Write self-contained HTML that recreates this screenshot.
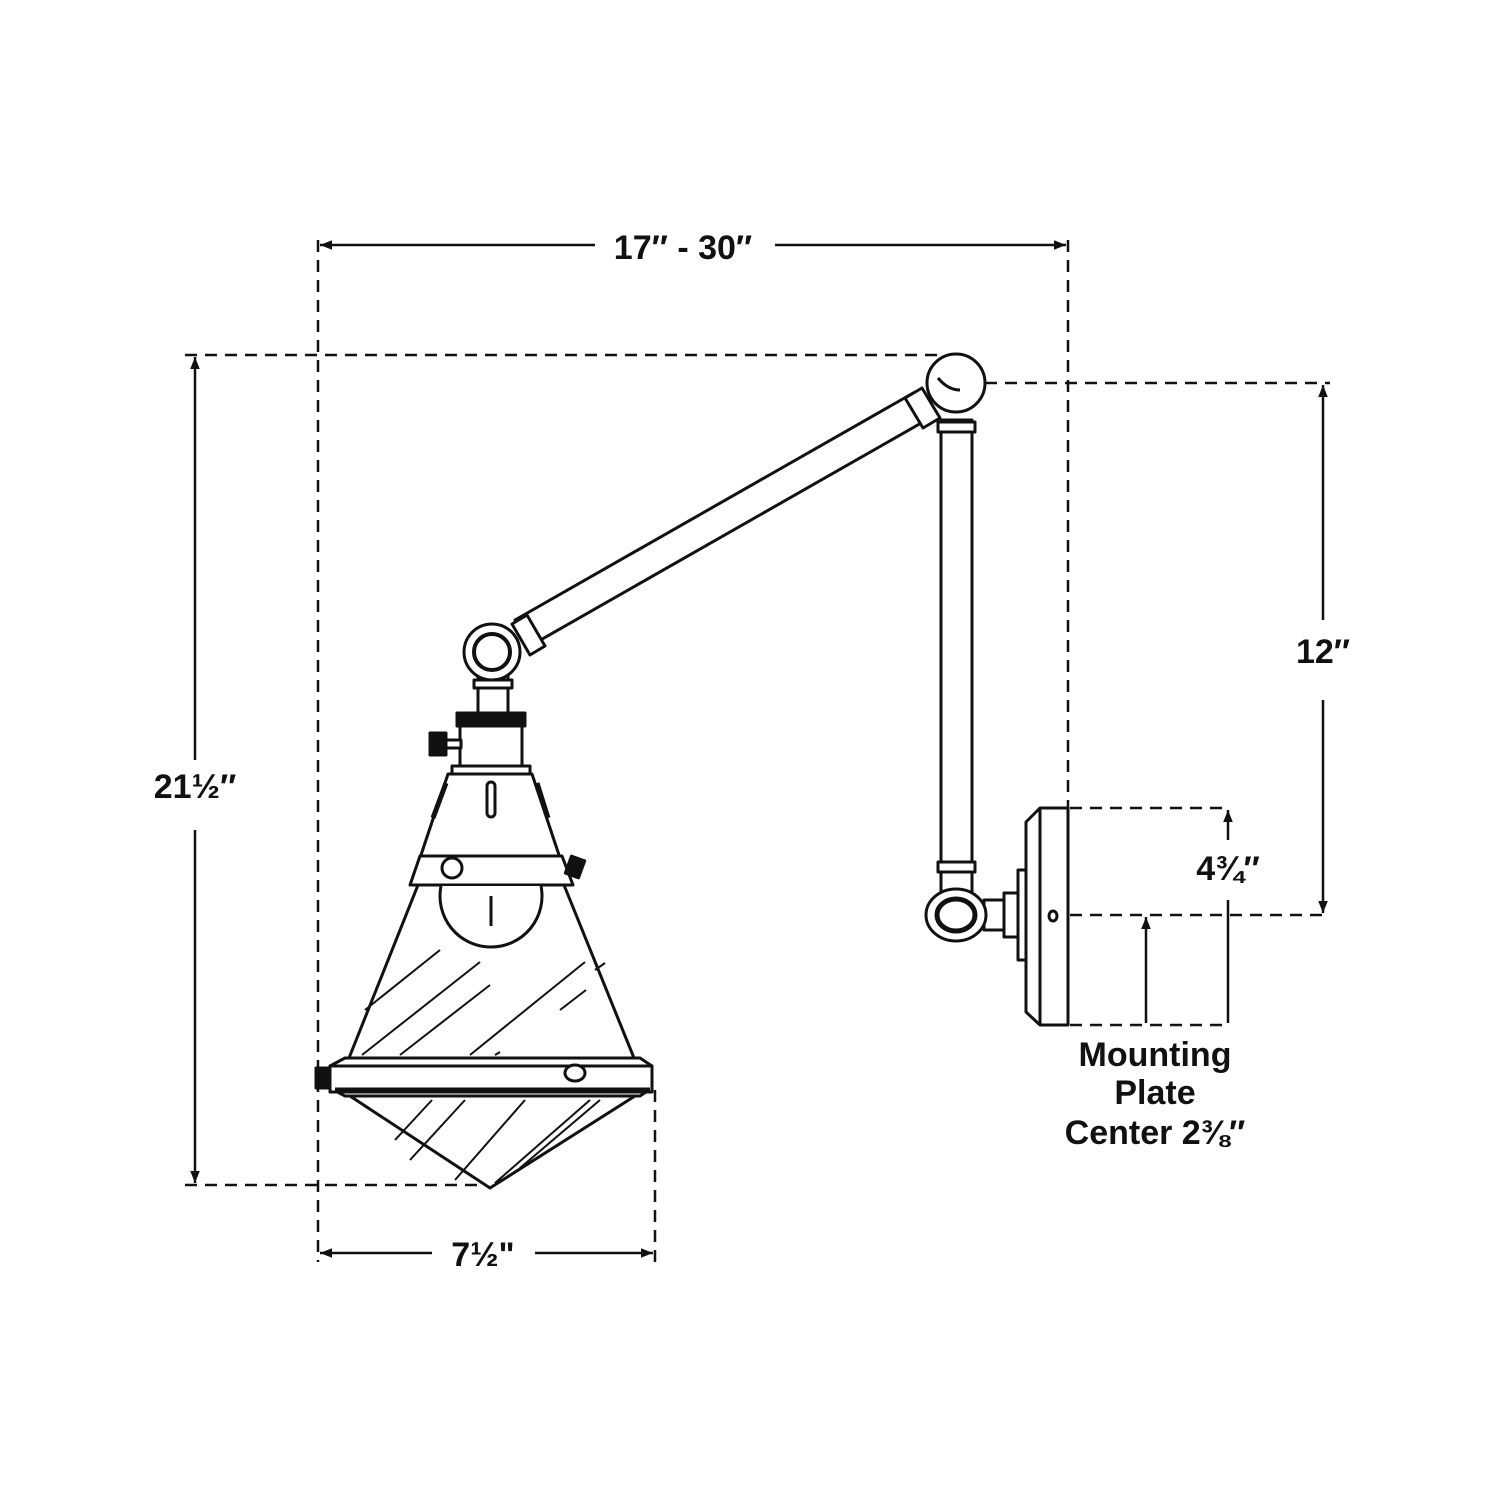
<!DOCTYPE html>
<html><head><style>
html,body{margin:0;padding:0;background:#fff;}
svg{display:block}
text{font-family:"Liberation Sans",sans-serif;font-weight:bold;fill:#111;}
</style></head><body>
<svg width="1500" height="1500" viewBox="0 0 1500 1500" xmlns="http://www.w3.org/2000/svg">
<defs>
<marker id="a" viewBox="0 0 10 10" refX="10" refY="5" markerWidth="12" markerHeight="12" markerUnits="userSpaceOnUse" orient="auto-start-reverse"><path d="M0,1 L10,5 L0,9 Z" fill="#111"/></marker>
</defs>
<g stroke="#111" stroke-width="2.5" stroke-dasharray="12,8" fill="none">
<line x1="318" y1="240" x2="318" y2="1262"/>
<line x1="1068" y1="240" x2="1068" y2="810"/>
<line x1="185" y1="355" x2="940" y2="355"/>
<line x1="185" y1="1185" x2="490" y2="1185"/>
<line x1="655" y1="1090" x2="655" y2="1262"/>
<line x1="985" y1="383" x2="1330" y2="383"/>
<line x1="1070" y1="915" x2="1330" y2="915"/>
<line x1="1070" y1="808" x2="1228" y2="808"/>
<line x1="1070" y1="1025" x2="1228" y2="1025"/>
</g>
<g stroke="#111" stroke-width="2.5" fill="none">
<line x1="320" y1="245" x2="595" y2="245" marker-start="url(#a)"/>
<line x1="775" y1="245" x2="1066" y2="245" marker-end="url(#a)"/>
<line x1="195" y1="357" x2="195" y2="760" marker-start="url(#a)"/>
<line x1="195" y1="830" x2="195" y2="1183" marker-end="url(#a)"/>
<line x1="320" y1="1253" x2="432" y2="1253" marker-start="url(#a)"/>
<line x1="535" y1="1253" x2="653" y2="1253" marker-end="url(#a)"/>
<line x1="1323" y1="385" x2="1323" y2="620" marker-start="url(#a)"/>
<line x1="1323" y1="700" x2="1323" y2="913" marker-end="url(#a)"/>
<line x1="1228" y1="810" x2="1228" y2="840" marker-start="url(#a)"/>
<line x1="1228" y1="900" x2="1228" y2="1023"/>
<line x1="1146" y1="917" x2="1146" y2="1023" marker-start="url(#a)"/>
</g>
<text x="683" y="259" font-size="34" text-anchor="middle">17″ - 30″</text>
<text x="195" y="798" font-size="34" text-anchor="middle">21½″</text>
<text x="483" y="1266" font-size="34" text-anchor="middle">7½"</text>
<text x="1323" y="663" font-size="34" text-anchor="middle">12″</text>
<text x="1228" y="880" font-size="34" text-anchor="middle">4¾″</text>
<text x="1155" y="1066" font-size="34" text-anchor="middle">Mounting</text>
<text x="1155" y="1104" font-size="34" text-anchor="middle">Plate</text>
<text x="1155" y="1144" font-size="34" text-anchor="middle">Center 2⅜″</text>

<g stroke="#111" stroke-width="3" fill="#fff" stroke-linejoin="round">
<!-- upper arm -->
<polygon points="515,620 915,392 930,418 530,646"/>
<polygon points="905,398 922,388 940,418 923,428"/>
<polygon points="512,624 527,615 545,646 530,655"/>
<!-- vertical pipe -->
<rect x="941" y="420" width="31" height="480"/>
<rect x="938" y="422" width="37" height="10"/>
<rect x="938" y="862" width="37" height="10"/>
<circle cx="956" cy="383" r="29"/>
<path d="M938,378 q10,12 22,12" fill="none"/>
<!-- lower joint and plate -->
<rect x="984" y="900" width="20" height="30"/>
<rect x="1004" y="893" width="14" height="44"/>
<rect x="1018" y="870" width="10" height="90"/>
<ellipse cx="956" cy="915" rx="30" ry="26"/>
<ellipse cx="956" cy="915" rx="19" ry="16" stroke-width="5"/>
<path d="M1040,808 L1068,808 L1068,1025 L1040,1025 L1026,1012 L1026,822 Z"/>
<line x1="1040" y1="808" x2="1040" y2="1025"/>
<ellipse cx="1053" cy="916" rx="4" ry="5"/>
<!-- head joint -->
<rect x="478" y="675" width="30" height="40"/>
<rect x="474" y="680" width="38" height="8"/>
<circle cx="492" cy="652" r="28"/>
<circle cx="492" cy="652" r="18" stroke-width="4"/>
<path d="M465,730 q0,-15 28,-15 q28,0 28,15 Z"/>
<rect x="457" y="713" width="68" height="13" fill="#111"/>
<rect x="460" y="726" width="62" height="40"/>
<rect x="445" y="740" width="16" height="8"/>
<rect x="430" y="733" width="16" height="22" fill="#111"/>
<rect x="452" y="766" width="78" height="8"/>
<!-- upper cone -->
<polygon points="448,774 532,774 560,858 420,858"/>
<line x1="446" y1="783" x2="433" y2="818" stroke-width="5"/>
<line x1="537" y1="783" x2="548" y2="818" stroke-width="5"/>
<rect x="487" y="782" width="8" height="35" rx="4"/>
<polygon points="410,885 420,856 562,856 573,885" />
<circle cx="452" cy="868" r="10"/>
<rect x="568" y="858" width="14" height="18" fill="#111" transform="rotate(20 575 867)"/>
<!-- glass cone -->
<polygon points="418,885 564,885 634,1058 349,1058"/>
<path d="M441,886 a51,51 0 1 0 100,0" fill="#fff"/>
<line x1="491" y1="896" x2="491" y2="926"/>
<g stroke-width="2" fill="none">
<line x1="365" y1="1010" x2="440" y2="950"/>
<line x1="362" y1="1055" x2="480" y2="962"/>
<line x1="400" y1="1055" x2="490" y2="985"/>
<line x1="470" y1="1055" x2="585" y2="962"/>
<line x1="560" y1="1010" x2="586" y2="990"/>
<line x1="595" y1="970" x2="605" y2="963"/>
<line x1="495" y1="1055" x2="500" y2="1052"/>
</g>
<!-- rim -->
<path d="M345,1058 L640,1058 L652,1066 L652,1088 L640,1096 L345,1096 L330,1088 L330,1066 Z"/>
<rect x="330" y="1066" width="322" height="26"/>
<line x1="335" y1="1090" x2="650" y2="1090" stroke-width="5"/>
<rect x="316" y="1068" width="12" height="20" fill="#111"/>
<ellipse cx="575" cy="1073" rx="10" ry="8"/>
<!-- lower cone -->
<polygon points="350,1096 635,1096 490,1188"/>
<g stroke-width="2" fill="none">
<line x1="395" y1="1140" x2="432" y2="1100"/>
<line x1="410" y1="1160" x2="465" y2="1100"/>
<line x1="455" y1="1180" x2="525" y2="1100"/>
<line x1="495" y1="1183" x2="590" y2="1100"/>
<line x1="520" y1="1168" x2="600" y2="1100"/>
</g>
</g>
</svg>
</body></html>
